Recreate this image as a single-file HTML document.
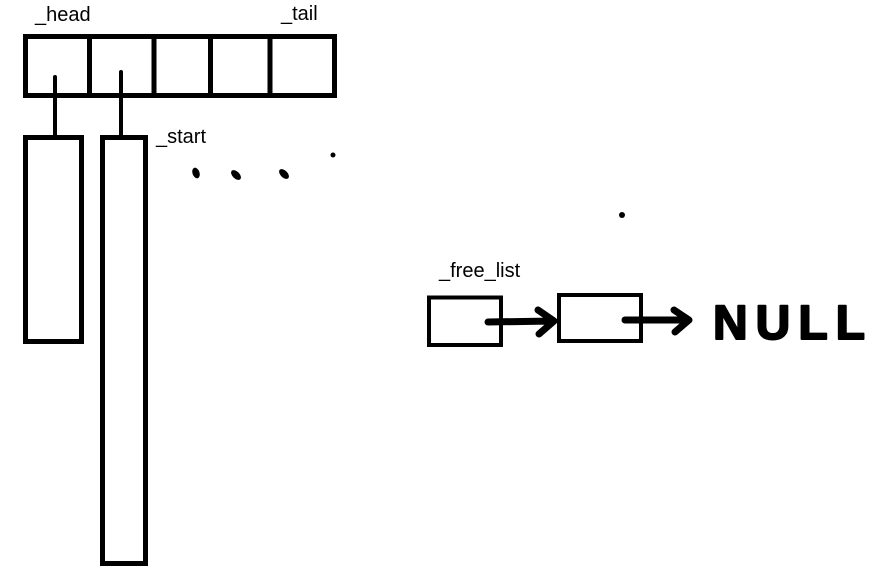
<!DOCTYPE html>
<html><head><meta charset="utf-8"><style>
html,body{margin:0;padding:0;background:#fff;}
svg{display:block;}
text.lbl{font-family:"Liberation Sans","Noto Sans CJK SC",sans-serif;font-size:20px;fill:#000;}
</style></head><body>
<svg width="893" height="578" viewBox="0 0 893 578">
<g fill="none" stroke="#000" stroke-width="5">
  <rect x="25.5" y="36.5" width="309" height="59"/>
  <line x1="89.5" y1="36" x2="89.5" y2="96"/>
  <line x1="154" y1="36" x2="154" y2="96"/>
  <line x1="210.5" y1="36" x2="210.5" y2="96"/>
  <line x1="270" y1="36" x2="270" y2="96"/>
  <line x1="55" y1="77" x2="55" y2="137" stroke-width="4" stroke-linecap="round"/>
  <line x1="121" y1="72" x2="121" y2="137" stroke-width="4" stroke-linecap="round"/>
  <rect x="25.5" y="137.5" width="56" height="204"/>
  <rect x="102.5" y="137.5" width="43" height="426"/>
  <rect x="429" y="297.5" width="72" height="47.5" stroke-width="4"/>
  <rect x="559" y="295" width="82" height="46" stroke-width="4"/>
</g>
<text class="lbl" x="35" y="21">_head</text>
<text class="lbl" x="281" y="20">_tail</text>
<text class="lbl" x="156" y="143">_start</text>
<text class="lbl" x="439" y="277">_free_list</text>
<g fill="#000">
  <ellipse cx="196" cy="173" rx="3.5" ry="5.5" transform="rotate(-20 196 173)"/>
  <ellipse cx="236" cy="175" rx="3.5" ry="6" transform="rotate(-45 236 175)"/>
  <ellipse cx="284" cy="174" rx="3.5" ry="6" transform="rotate(-45 284 174)"/>
  <circle cx="333" cy="155" r="2.5"/>
  <circle cx="622" cy="215" r="3"/>
</g>
<g fill="none" stroke="#000" stroke-width="7" stroke-linecap="round" stroke-linejoin="round">
  <path d="M488 322 L553 321 M538 310 L554 321 L539 334"/>
  <path d="M625 320 L688 320 M674 310 L689 320 L675 332"/>
</g>
<text x="713" y="339" font-family="Liberation Sans, sans-serif" font-weight="bold" font-size="48" letter-spacing="8" fill="#000" stroke="#000" stroke-width="2" stroke-linejoin="round">NULL</text>
</svg>
</body></html>
